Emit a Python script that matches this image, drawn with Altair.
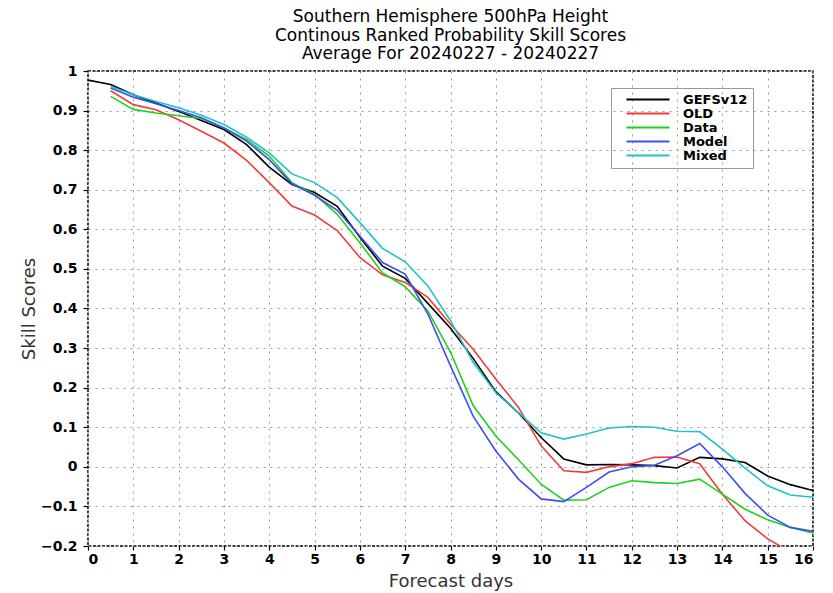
import altair as alt
import pandas as pd

# Forecast lead times (days), every half day from 0 to 16
days = [i * 0.5 for i in range(33)]

series_names = ["GEFSv12", "OLD", "Data", "Model", "Mixed"]
series_colors = ["#000000", "#f03c3c", "#1ed21e", "#3c50f0", "#1ec3c8"]

gefsv12 = [0.977, 0.966, 0.940, 0.919, 0.898, 0.875, 0.852, 0.814, 0.757, 0.713,
           0.693, 0.658, 0.580, 0.507, 0.476, 0.413, 0.350, 0.274, 0.190, 0.136,
           0.074, 0.020, 0.005, 0.006, 0.005, 0.003, -0.003, 0.024, 0.020, 0.011,
           -0.023, -0.045, -0.060]
old = [None, 0.950, 0.915, 0.902, 0.877, 0.848, 0.818, 0.774, 0.718, 0.659,
       0.636, 0.597, 0.529, 0.485, 0.466, 0.428, 0.360, 0.297, 0.222, 0.150,
       0.053, -0.010, -0.014, 0.000, 0.008, 0.024, 0.025, 0.008, -0.069, -0.136,
       -0.182, -0.215, -0.245]
data_run = [None, 0.936, 0.903, 0.894, 0.887, 0.880, 0.856, 0.827, 0.785, 0.718,
            0.688, 0.638, 0.566, 0.490, 0.455, 0.394, 0.290, 0.155, 0.078, 0.018,
            -0.044, -0.084, -0.083, -0.052, -0.035, -0.040, -0.042, -0.031, -0.069, -0.107,
            -0.134, -0.153, -0.167]
model = [None, 0.957, 0.934, 0.917, 0.900, 0.882, 0.856, 0.823, 0.776, 0.715,
         0.686, 0.648, 0.583, 0.516, 0.487, 0.386, 0.255, 0.128, 0.040, -0.031,
         -0.081, -0.088, -0.052, -0.013, 0.000, 0.004, 0.028, 0.059, 0.000, -0.067,
         -0.122, -0.153, -0.163]
mixed = [None, 0.961, 0.940, 0.923, 0.907, 0.888, 0.865, 0.833, 0.793, 0.740,
         0.718, 0.680, 0.617, 0.552, 0.518, 0.457, 0.369, 0.264, 0.187, 0.137,
         0.086, 0.070, 0.083, 0.098, 0.102, 0.100, 0.090, 0.089, 0.045, -0.003,
         -0.048, -0.071, -0.077]

x_ticks = list(range(17))
y_ticks = [round(-0.2 + 0.1 * i, 1) for i in range(13)]

rows = []
for name, vals in zip(series_names, [gefsv12, old, data_run, model, mixed]):
    for order, (d, v) in enumerate(zip(days, vals)):
        if v is not None:
            rows.append({"day": d, "score": v, "run": name, "o": order})
df = pd.DataFrame(rows)

font = "DejaVu Sans"

# short horizontal stroke used as the legend key (scaled by sqrt(size)/2)
legend_key = "M1,0L11.75,0"

lines = alt.Chart(df).mark_line(strokeWidth=1.6, clip=True).encode(
    x=alt.X("day:Q",
            scale=alt.Scale(domain=[0, 16], nice=False, zero=False),
            axis=alt.Axis(values=x_ticks, format="d", title="Forecast days",
                          tickSize=4, labelPadding=2, titlePadding=6)),
    y=alt.Y("score:Q",
            scale=alt.Scale(domain=[-0.2, 1], nice=False, zero=False),
            axis=alt.Axis(values=y_ticks, format=".1~f", title="Skill Scores",
                          tickSize=5, labelPadding=6, titlePadding=2)),
    color=alt.Color("run:N",
                    scale=alt.Scale(domain=series_names, range=series_colors),
                    sort=series_names,
                    legend=alt.Legend(title=None, orient="none",
                                      legendX=523, legendY=17,
                                      symbolType=legend_key, symbolSize=64,
                                      symbolStrokeWidth=2,
                                      labelFont=font, labelFontSize=13,
                                      labelFontWeight="bold", labelColor="#000",
                                      strokeColor="#999", padding=5,
                                      rowPadding=-1, labelOffset=54)),
    order=alt.Order("o:Q"),
)

chart = lines.properties(
    width=725,
    height=475,
    autosize=alt.AutoSizeParams(type="none"),
    padding={"left": 88, "top": 71, "right": 20, "bottom": 47},
    title=alt.Title(
        ["Southern Hemisphere 500hPa Height",
         "Continous Ranked Probability Skill Scores",
         "Average For 20240227 - 20240227"],
        font=font, fontSize=17, fontWeight="normal", color="#000",
        lineHeight=18.5, anchor="middle", offset=1,
    ),
).configure_view(
    stroke="#000", strokeWidth=1.5, strokeDash=[3, 1.5],
).configure_axis(
    grid=True, gridColor="#999", gridDash=[2, 5], gridWidth=1,
    domain=False, tickColor="#000", tickWidth=1.2,
    labelFont=font, labelFontSize=14, labelFontWeight="bold", labelColor="#000",
    titleFont=font, titleFontSize=18, titleFontWeight="normal", titleColor="#333",
)

chart.save("out.html", embed_options={"renderer": "svg", "actions": False})
